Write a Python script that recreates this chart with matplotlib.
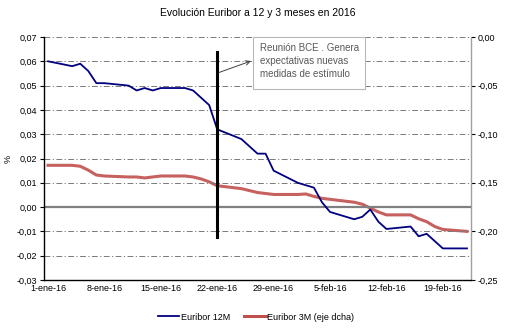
import matplotlib
matplotlib.use("Agg")
import matplotlib.pyplot as plt
import matplotlib.dates as mdates
import matplotlib.patches as mpatches
from matplotlib.lines import Line2D
import pandas as pd

plt.rcParams['font.family'] = ['Liberation Sans', 'DejaVu Sans']

dates = ["2016-01-01", "2016-01-04", "2016-01-05", "2016-01-06", "2016-01-07", "2016-01-08",
         "2016-01-11", "2016-01-12", "2016-01-13", "2016-01-14", "2016-01-15",
         "2016-01-18", "2016-01-19", "2016-01-20", "2016-01-21", "2016-01-22",
         "2016-01-25", "2016-01-26", "2016-01-27", "2016-01-28", "2016-01-29",
         "2016-02-01", "2016-02-02", "2016-02-03", "2016-02-04", "2016-02-05",
         "2016-02-08", "2016-02-09", "2016-02-10", "2016-02-11", "2016-02-12",
         "2016-02-15", "2016-02-16", "2016-02-17", "2016-02-18", "2016-02-19",
         "2016-02-22"]

euribor_12m = [0.060, 0.058, 0.059, 0.056, 0.051, 0.051,
               0.050, 0.048, 0.049, 0.048, 0.049,
               0.049, 0.048, 0.045, 0.042, 0.032,
               0.028, 0.025, 0.022, 0.022, 0.015,
               0.010, 0.009, 0.008, 0.002, -0.002,
               -0.005, -0.004, -0.001, -0.006, -0.009,
               -0.008, -0.012, -0.011, -0.014, -0.017,
               -0.017]

euribor_3m = [-0.132, -0.132, -0.133, -0.137, -0.142, -0.143,
              -0.144, -0.144, -0.145, -0.144, -0.143,
              -0.143, -0.144, -0.146, -0.149, -0.153,
              -0.156, -0.158, -0.160, -0.161, -0.162,
              -0.162, -0.1615, -0.164, -0.166, -0.167,
              -0.170, -0.172, -0.176, -0.180, -0.183,
              -0.183, -0.187, -0.190, -0.195, -0.198,
              -0.200]

event_date = "2016-01-22"
event_top = 0.064
event_bottom = -0.0125
event_lines = ["Reunión BCE . Genera", "expectativas nuevas", "medidas de estímulo"]

tick_dates = ["2016-01-01", "2016-01-08", "2016-01-15", "2016-01-22",
              "2016-01-29", "2016-02-05", "2016-02-12", "2016-02-19"]
tick_labels = ["1-ene-16", "8-ene-16", "15-ene-16", "22-ene-16",
               "29-ene-16", "5-feb-16", "12-feb-16", "19-feb-16"]

left_ticks = [0.07, 0.06, 0.05, 0.04, 0.03, 0.02, 0.01, 0.00, -0.01, -0.02, -0.03]
right_ticks = [0.00, -0.05, -0.10, -0.15, -0.20, -0.25]

title = "Evolución Euribor a 12 y 3 meses en 2016"
legend_labels = ["Euribor 12M", "Euribor 3M (eje dcha)"]

x = mdates.date2num(pd.to_datetime(dates))
tx = mdates.date2num(pd.to_datetime(tick_dates))
ex = mdates.date2num(pd.to_datetime(event_date))

W, H = 515, 332
fig = plt.figure(figsize=(W / 100, H / 100), dpi=100)
ax = fig.add_axes([44 / W, 52 / H, 427 / W, 243 / H])
ax2 = ax.twinx()


def fx(px):
    return px / W


def fy(py):
    return 1 - py / H


blue = "#000080"
red = "#C0504D"
fs = 6.5

ax.set_xlim(x[0] - 0.5, x[-1] + 0.5)
ax.set_ylim(-0.03, 0.07)
ax2.set_ylim(-0.25, 0.0)

for v in left_ticks:
    if abs(v) < 1e-9:
        ax.axhline(v, color="#808080", lw=1.6, zorder=1)
    else:
        ax.axhline(v, color="#7a7a7a", lw=0.7, ls=(0, (6, 2.5, 1.2, 2.5)), zorder=1)

ax.plot(x, euribor_12m, color=blue, lw=1.3, zorder=4)
ax2.plot(x, euribor_3m, color=red, lw=2.2, zorder=3, alpha=0.9)

ax.plot([ex, ex], [event_top, event_bottom], color="black", lw=2.2, zorder=5)

ax.set_zorder(ax2.get_zorder() + 1)
ax.patch.set_visible(False)


def fmt(v):
    s = f"{v:.2f}".replace(".", ",")
    return "0,00" if s == "-0,00" else s


ax.set_yticks(left_ticks)
ax.set_yticklabels([fmt(v) for v in left_ticks], fontsize=fs)
ax2.set_yticks(right_ticks)
ax2.set_yticklabels([fmt(v) for v in right_ticks], fontsize=fs)
ax.set_xticks(tx)
ax.set_xticklabels(tick_labels, fontsize=fs)
ax.tick_params(axis="x", length=0, pad=3)
ax.tick_params(axis="y", length=3, width=0.8, pad=2, direction="out")
ax2.tick_params(axis="y", length=3, width=0.8, pad=2, direction="out",
                colors="black")

for a in (ax, ax2):
    a.spines["top"].set_visible(False)
ax.spines["left"].set_color("black")
ax.spines["left"].set_linewidth(1.0)
ax.spines["bottom"].set_color("black")
ax.spines["bottom"].set_linewidth(1.0)
ax.spines["right"].set_visible(False)
ax2.spines["left"].set_visible(False)
ax2.spines["bottom"].set_visible(False)
ax2.spines["right"].set_color("#a0a0a0")
ax2.spines["right"].set_linestyle((0, (1.5, 1)))
ax2.spines["right"].set_linewidth(1.0)

ax.set_ylabel("%", fontsize=fs, labelpad=3)

fig.text(0.5, fy(13), title, ha="center", va="center", fontsize=7.5)

# annotation box
rect = mpatches.Rectangle((fx(252.5), fy(89)), fx(365) - fx(252.5), fy(37) - fy(89),
                          transform=fig.transFigure, fc="white", ec="#b8b8b8",
                          lw=0.8, zorder=10)
fig.add_artist(rect)
for i, line in enumerate(event_lines):
    fig.text(fx(260), fy(48 + 13 * i), line, ha="left", va="center",
             fontsize=7, color="#595959", zorder=11)
arrow = mpatches.FancyArrowPatch((fx(219), fy(72.5)), (fx(251), fy(61)),
                                 transform=fig.transFigure, arrowstyle="->",
                                 color="#404040", lw=0.7, mutation_scale=8,
                                 shrinkA=0, shrinkB=0, zorder=11)
fig.add_artist(arrow)

handles = [Line2D([], [], color=blue, lw=1.3), Line2D([], [], color=red, lw=2.2)]
fig.legend(handles, legend_labels, loc="center",
           bbox_to_anchor=(fx(256), fy(317)), ncol=2, frameon=False, fontsize=fs,
           handlelength=2.4, handletextpad=0.15, columnspacing=1.6)

fig.savefig("out.png", dpi=100)
